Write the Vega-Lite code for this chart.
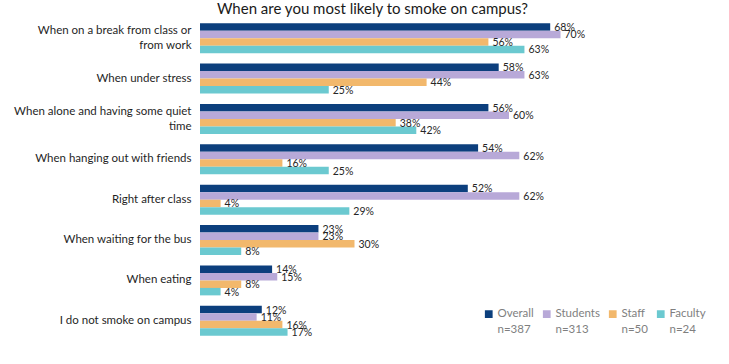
{
  "$schema": "https://vega.github.io/schema/vega-lite/v6.json",
  "width": 515,
  "height": 323,
  "autosize": "none",
  "padding": {"left": 200, "top": 18, "right": 14, "bottom": 23},
  "title": {
    "text": "When are you most likely to smoke on campus?",
    "font": "Lato",
    "fontSize": 15,
    "fontWeight": "normal",
    "color": "#1a1a1a",
    "anchor": "middle",
    "frame": "group",
    "dx": -85,
    "offset": 1
  },
  "config": {
    "view": {"stroke": null},
    "font": "Lato",
    "style": {"guide-label": {"lineHeight": 16}}
  },
  "data": {
    "values": [
      {"cat": "When on a break from class or|from work", "group": "Overall", "value": 68},
      {"cat": "When on a break from class or|from work", "group": "Students", "value": 70},
      {"cat": "When on a break from class or|from work", "group": "Staff", "value": 56},
      {"cat": "When on a break from class or|from work", "group": "Faculty", "value": 63},
      {"cat": "When under stress", "group": "Overall", "value": 58},
      {"cat": "When under stress", "group": "Students", "value": 63},
      {"cat": "When under stress", "group": "Staff", "value": 44},
      {"cat": "When under stress", "group": "Faculty", "value": 25},
      {"cat": "When alone and having some quiet|time", "group": "Overall", "value": 56},
      {"cat": "When alone and having some quiet|time", "group": "Students", "value": 60},
      {"cat": "When alone and having some quiet|time", "group": "Staff", "value": 38},
      {"cat": "When alone and having some quiet|time", "group": "Faculty", "value": 42},
      {"cat": "When hanging out with friends", "group": "Overall", "value": 54},
      {"cat": "When hanging out with friends", "group": "Students", "value": 62},
      {"cat": "When hanging out with friends", "group": "Staff", "value": 16},
      {"cat": "When hanging out with friends", "group": "Faculty", "value": 25},
      {"cat": "Right after class", "group": "Overall", "value": 52},
      {"cat": "Right after class", "group": "Students", "value": 62},
      {"cat": "Right after class", "group": "Staff", "value": 4},
      {"cat": "Right after class", "group": "Faculty", "value": 29},
      {"cat": "When waiting for the bus", "group": "Overall", "value": 23},
      {"cat": "When waiting for the bus", "group": "Students", "value": 23},
      {"cat": "When waiting for the bus", "group": "Staff", "value": 30},
      {"cat": "When waiting for the bus", "group": "Faculty", "value": 8},
      {"cat": "When eating", "group": "Overall", "value": 14},
      {"cat": "When eating", "group": "Students", "value": 15},
      {"cat": "When eating", "group": "Staff", "value": 8},
      {"cat": "When eating", "group": "Faculty", "value": 4},
      {"cat": "I do not smoke on campus", "group": "Overall", "value": 12},
      {"cat": "I do not smoke on campus", "group": "Students", "value": 11},
      {"cat": "I do not smoke on campus", "group": "Staff", "value": 16},
      {"cat": "I do not smoke on campus", "group": "Faculty", "value": 17}
    ]
  },
  "encoding": {
    "y": {
      "field": "cat",
      "type": "nominal",
      "sort": null,
      "scale": {"paddingInner": 0.26, "paddingOuter": 0.13},
      "axis": {
        "title": null,
        "domain": false,
        "ticks": false,
        "labelPadding": 9,
        "labelFont": "Lato",
        "labelFontSize": 11.5,
        "labelColor": "#1f1f1f",
        "labelLimit": 250,
        "labelLineHeight": 15,
        "labelOffset": {"condition": {"test": "indexof(datum.value, '|') >= 0", "value": -7}, "value": 0},
        "labelExpr": "split(datum.label, '|')"
      }
    },
    "yOffset": {
      "field": "group",
      "type": "nominal",
      "scale": {"domain": ["Overall", "Students", "Staff", "Faculty"], "paddingInner": 0, "paddingOuter": 0}
    },
    "x": {
      "field": "value",
      "type": "quantitative",
      "scale": {"domain": [0, 100]},
      "axis": null
    }
  },
  "layer": [
    {
      "mark": {"type": "bar"},
      "encoding": {
        "color": {
          "field": "group",
          "type": "nominal",
          "scale": {
            "domain": ["Overall", "Students", "Staff", "Faculty"],
            "range": ["#0c3f7d", "#b8a9d8", "#f2b86c", "#6bc9d0"]
          },
          "legend": {
            "orient": "none",
            "legendX": 283,
            "legendY": 290,
            "direction": "horizontal",
            "title": null,
            "symbolType": "square",
            "symbolSize": 60,
            "symbolStrokeWidth": 0,
            "labelFont": "Lato",
            "labelFontSize": 11.5,
            "labelColor": "#7f7f7f",
            "labelOffset": 3,
            "columnPadding": 7,
            "labelExpr": "datum.label == 'Overall' ? ['Overall', 'n=387'] : datum.label == 'Students' ? ['Students', 'n=313'] : datum.label == 'Staff' ? ['Staff', 'n=50'] : ['Faculty', 'n=24']"
          }
        }
      }
    },
    {
      "transform": [{"calculate": "datum.value + '%'", "as": "label"}],
      "mark": {"type": "text", "align": "left", "baseline": "middle", "dx": 4, "dy": 1, "font": "Lato", "fontSize": 10.5, "color": "#262626"},
      "encoding": {
        "text": {"field": "label", "type": "nominal"},
        "detail": {"field": "group"}
      }
    }
  ]
}
